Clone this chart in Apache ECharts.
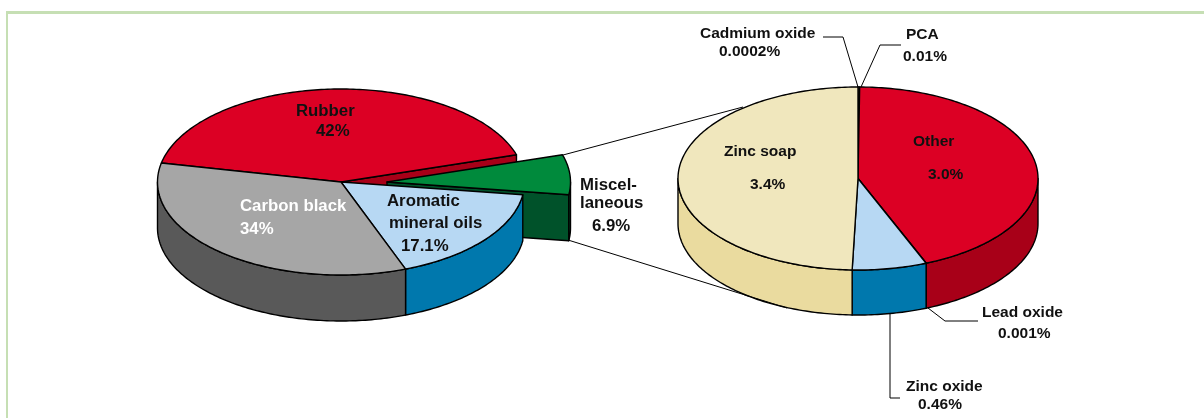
<!DOCTYPE html>
<html>
<head>
<meta charset="utf-8">
<style>
  html, body { margin: 0; padding: 0; background: #fff; }
  #chart { width: 1204px; height: 418px; }
</style>
<script src="https://cdn.jsdelivr.net/npm/echarts@6/dist/echarts.min.js"></script>
</head>
<body>
<div id="chart"></div>
<script>
// main pie, clockwise from the rubber slice
var mainNames = ['Rubber', 'Miscellaneous', 'Aromatic mineral oils', 'Carbon black'];
var mainValues = [42, 6.9, 17.1, 34];
// breakdown of the miscellaneous slice, clockwise from 12 o'clock
var detailNames = ['Cadmium oxide', 'PCA', 'Other', 'Lead oxide', 'Zinc oxide', 'Zinc soap'];
var detailValues = [0.0002, 0.01, 3.0, 0.001, 0.46, 3.4];

var mainTop = ['#dc0024', '#008a3c', '#b7d8f3', '#a6a6a6'];
var mainSide = ['#a80018', '#00522a', '#0078ad', '#595959'];
var detailTop = ['#a8861e', '#a8861e', '#dc0024', '#b7d8f3', '#b7d8f3', '#f0e7bd'];
var detailSide = ['#a8861e', '#a8861e', '#a80018', '#0078ad', '#0078ad', '#eadb9f'];

// text lines: text, x, y, colour
var mainLabels = [
  ['Rubber', 296, 111], ['42%', 316, 131],
  ['Carbon black', 240, 206, '#fff'], ['34%', 240, 229, '#fff'],
  ['Aromatic', 387, 201], ['mineral oils', 389, 223], ['17.1%', 401, 246],
  ['Miscel-', 580, 185], ['laneous', 580, 203], ['6.9%', 592, 226]
];
var detailLabels = [
  ['Cadmium oxide', 700, 34], ['0.0002%', 719, 52],
  ['PCA', 906, 35], ['0.01%', 903, 57],
  ['Zinc soap', 724, 152], ['3.4%', 750, 185],
  ['Other', 913, 142], ['3.0%', 928, 175],
  ['Lead oxide', 982, 313], ['0.001%', 998, 334],
  ['Zinc oxide', 906, 387], ['0.46%', 918, 405]
];

// leader lines between pies and to the small labels
var leaders = [
  [[563, 155], [743, 107]],
  [[568, 240], [787, 308]],
  [[823, 37], [843, 37], [858, 87]],
  [[901, 45], [880, 45], [861, 87]],
  [[928, 308], [945, 321], [978, 321]],
  [[890, 313], [890, 398], [900, 398]]
];

function rad(d) { return d * Math.PI / 180; }

function pieSeries(values, topColors, sideColors, geo) {
  var total = values.reduce(function (a, b) { return a + b; }, 0);

  function rim(cx, cy, deg, dy) {
    return [cx + geo.rx * Math.cos(rad(deg)), cy - geo.ry * Math.sin(rad(deg)) + (dy || 0)];
  }
  // points along the rim, going clockwise
  function arc(cx, cy, from, to, dy) {
    var pts = [];
    for (var d = from; d > to; d -= 1) pts.push(rim(cx, cy, d, dy));
    pts.push(rim(cx, cy, to, dy));
    return pts;
  }
  function poly(points, fill) {
    return {
      type: 'polygon',
      shape: { points: points },
      style: { fill: fill, stroke: '#000', lineWidth: geo.lineWidth, lineJoin: 'round' }
    };
  }

  return {
    type: 'custom',
    coordinateSystem: 'none',
    silent: true,
    animation: false,
    data: values.map(function (v) { return [v]; }),
    renderItem: function (params, api) {
      var i = params.dataIndex;
      var before = 0;
      for (var k = 0; k < i; k++) before += values[k];
      var a1 = geo.start - before / total * 360;
      var a2 = a1 - api.value(0) / total * 360;
      var cx = geo.cx + (i === geo.exploded ? geo.explodeBy : 0);
      var cy = geo.cy;
      var kids = [];

      // cut faces seen through the gap the exploded slice leaves
      if (i === geo.exploded || i + 1 === geo.exploded) {
        var e = rim(cx, cy, a2);
        kids.push(poly([[cx, cy], e, [e[0], e[1] + geo.depth], [cx, cy + geo.depth]], sideColors[i]));
      }
      // outer wall, only the front half of the rim
      var hi = Math.min(a1, 0);
      var lo = Math.max(a2, -180);
      if (hi > lo) {
        var up = arc(cx, cy, hi, lo, 0);
        var down = arc(cx, cy, hi, lo, geo.depth).reverse();
        kids.push(poly(up.concat(down), sideColors[i]));
      }
      kids.push(poly([[cx, cy]].concat(arc(cx, cy, a1, a2, 0)), topColors[i]));
      return { type: 'group', children: kids };
    }
  };
}

var graphics = [
  { type: 'rect', z: 100, shape: { x: 6, y: 11, width: 1198, height: 3 }, style: { fill: '#c6dfb4' } },
  { type: 'rect', z: 100, shape: { x: 6, y: 11, width: 2, height: 407 }, style: { fill: '#c6dfb4' } }
];
leaders.forEach(function (pts) {
  graphics.push({
    type: 'polyline',
    z: 100,
    shape: { points: pts },
    style: { stroke: '#000', lineWidth: 1, fill: null }
  });
});

function addLabels(list, size) {
  list.forEach(function (l) {
    graphics.push({
      type: 'text',
      z: 100,
      x: l[1],
      y: l[2],
      style: {
        text: l[0],
        fill: l[3] || '#111',
        font: 'bold ' + size + 'px "Liberation Sans", Arial, sans-serif',
        verticalAlign: 'middle',
        align: 'left'
      }
    });
  });
}
addLabels(mainLabels, 16.8);
addLabels(detailLabels, 15.5);

var chart = echarts.init(document.getElementById('chart'), null, { renderer: 'canvas' });
chart.setOption({
  backgroundColor: '#fff',
  animation: false,
  series: [
    pieSeries(mainValues, mainTop, mainSide, {
      cx: 341, cy: 182, rx: 183.5, ry: 93, depth: 46, start: 168.2,
      exploded: 1, explodeBy: 46, lineWidth: 1.4
    }),
    pieSeries(detailValues, detailTop, detailSide, {
      cx: 858, cy: 178.5, rx: 180, ry: 91.5, depth: 45, start: 90,
      exploded: -1, explodeBy: 0, lineWidth: 1.4
    })
  ],
  graphic: { elements: graphics }
});
</script>
</body>
</html>
